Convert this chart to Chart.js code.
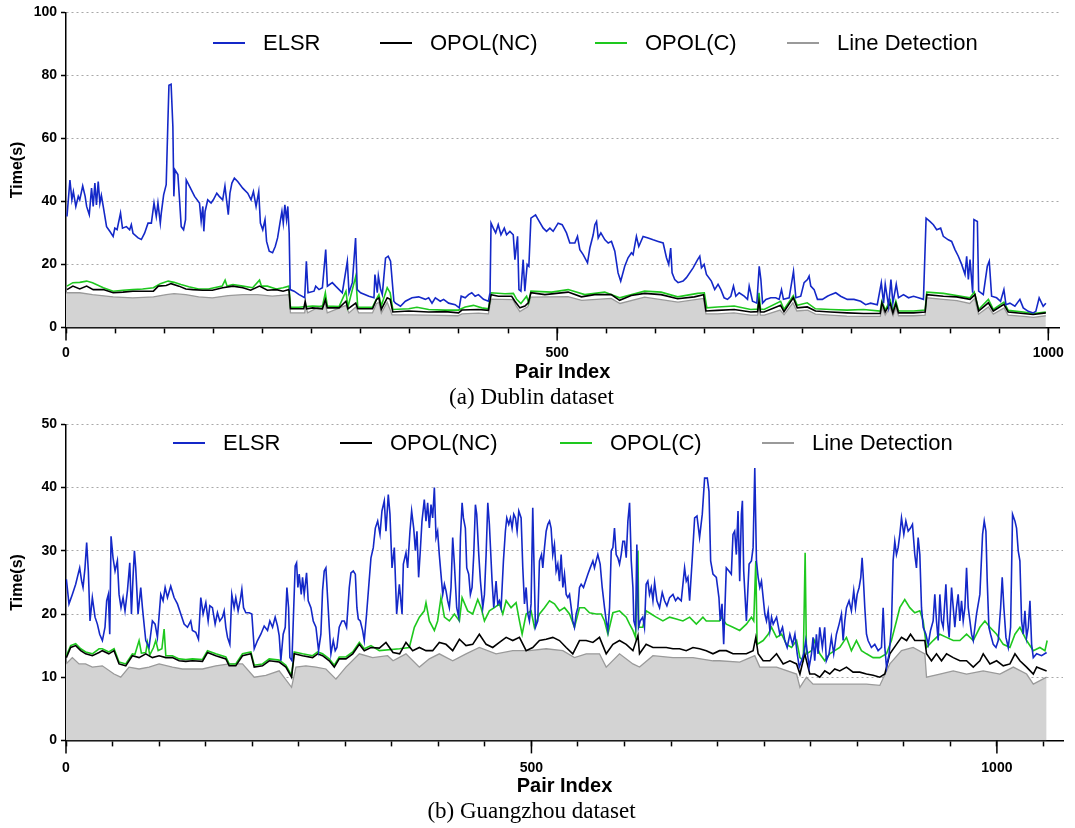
<!DOCTYPE html>
<html>
<head>
<meta charset="utf-8">
<script src="https://cdn.jsdelivr.net/npm/chart.js@4"></script>
<style>
body { margin: 0; background: #fff; }
.box { position: absolute; left: 0; width: 1075px; }
#top { top: 0; height: 412px; }
#bottom { top: 412px; height: 416px; }
</style>
</head>
<body>
<div class="box" id="top"><canvas id="dublinChart"></canvas></div>
<div class="box" id="bottom"><canvas id="guangzhouChart"></canvas></div>
<script>
const seriesNames = ['ELSR', 'OPOL(NC)', 'OPOL(C)', 'Line Detection'];

// Dublin dataset, [pair index, time in s]
const dublinElsr = [[1,35.2],[4,46.8],[6,40.5],[7.5,43.1],[10,38.4],[12.5,41.6],[14,40.5],[17,44.9],[19.5,41.6],[21,38.4],[23.7,35.8],[26,44.2],[27.7,38.4],[29.4,45.8],[31,38.9],[32.8,46.3],[34.5,39.4],[36,41.9],[37.9,38.4],[41.3,32],[44.6,30.5],[48,28.9],[49.7,31.5],[52,31],[55.5,36.3],[57.5,31.5],[61.5,32],[64.8,31],[66.5,32.6],[68.2,29.9],[73.4,28.4],[76.7,27.9],[80,29.9],[83.5,33.1],[86.9,33.1],[89.6,39.5],[91.9,35.2],[93.6,39.5],[96,33.1],[97,36.3],[99.4,42.1],[102,45.3],[103.6,63.7],[104.8,76.9],[107,77.2],[108.8,63.7],[109.8,41.6],[110.9,50],[113.9,48.5],[115.6,40.5],[117.3,32],[119.7,31],[121.7,34.2],[122.4,46.8],[125.8,44.8],[130.9,41.6],[135.9,39.5],[137.6,33.7],[139.3,38.4],[140.3,30.5],[141.6,36.8],[144.3,40.5],[147.7,39.5],[150,40.5],[153.5,42.6],[156,41.6],[159.5,40.5],[161.8,44.9],[163.8,39.5],[165.2,35.8],[166.9,42.6],[168.9,45.8],[171.4,47.4],[174.8,46.3],[179.9,44.2],[185,42.6],[188.4,40.5],[190.8,43.1],[193.5,38.4],[196.2,43.1],[197.9,33.1],[200.3,31],[202.6,34.2],[204.2,27.3],[206.9,24.2],[210.3,23.7],[213,25.7],[215.4,28.4],[217.8,33.1],[219.8,36.8],[221.2,33.1],[222.8,38.9],[224.5,34.2],[225.8,38.4],[227.2,29.9],[228.2,12],[232.2,11.5],[237.3,10.4],[243,9.4],[244.7,21],[246.4,11],[252.5,11.5],[254.2,13.1],[257.6,12],[261,12.6],[264.4,24.7],[266.1,13.1],[271.1,14.2],[274.5,13.1],[281.3,11],[286.4,21],[288.1,11],[291.5,14.2],[294.8,28.4],[296.5,12],[299.9,11],[308.4,9.9],[313.5,9.4],[314.5,16.8],[316.9,11],[318,16.3],[320.3,12],[322,10.4],[325.3,22],[328,22.6],[330.4,21],[333.8,8.3],[335.4,7.7],[340.5,6.7],[345.5,8.3],[352.3,9.4],[359,9.7],[365.8,8.9],[369.2,9.4],[372.6,7.7],[376,9.4],[381,8.3],[384.4,8.9],[389.5,7.7],[396.2,7.2],[400.3,6.2],[402.3,9.9],[406.4,9.4],[409.8,10.4],[413.1,11],[416.5,9.9],[419.9,10.4],[425,8.9],[430,8.3],[431.7,11],[432.7,33.1],[435,31.5],[437.4,30],[440,32.6],[442.8,29.4],[446.2,31.5],[448.5,29.4],[451.9,30.5],[455.3,29.4],[457,21.5],[459.7,28.9],[461.1,12],[463.1,11.5],[465.4,21.5],[467.1,11.5],[469.5,20],[471.2,19.4],[473.3,34.7],[478,35.7],[480.7,34.2],[485.8,31.5],[489.2,30.5],[492.6,31.5],[495.9,30.5],[501,33.1],[505.1,32.6],[509.5,30],[512.9,26.8],[518,26.8],[520.7,28.9],[523.1,24.7],[526.5,23.1],[530.9,20.5],[533.3,25.2],[536.7,29.4],[538.4,32.6],[540.1,33.6],[541.8,28.4],[544.5,30],[548.6,27.8],[552,26.8],[555.3,27.3],[558.7,24.2],[562,17.3],[564.7,14.7],[568.8,19.4],[572.2,22.1],[575.6,23.7],[577.3,23.1],[580.7,28.9],[583.1,25.7],[587.5,28.9],[592.6,28.4],[597.7,27.8],[602.8,27.3],[607.9,26.8],[611.3,22.1],[613.6,20],[615.6,25.2],[617,17.3],[619.7,15.2],[623.1,14.2],[628.2,14.7],[631.6,15.8],[638.4,18.9],[643,21.5],[645.2,22.6],[646.9,18.9],[649.6,20],[652,16.8],[657,14.7],[660.4,12],[663.8,13.7],[666.7,12],[670,9.4],[673.4,8.9],[676.8,9.9],[679.5,13.1],[681.9,9.9],[685.3,11],[690.4,9.9],[693.8,8.9],[695.5,13.1],[698.9,8.3],[703.3,7.7],[705.7,19.4],[707.4,15.2],[709.1,7.7],[712.5,8.9],[717.5,9.4],[722.6,9.4],[726,8.9],[728.4,12],[730.4,8.9],[736.2,9.4],[740.6,17.8],[743,9.4],[748,9.9],[751.4,14.2],[754.8,15.2],[756.5,16.3],[758.2,13.1],[761.6,12],[765,8.9],[770,8.9],[775.1,9.9],[778.5,10.4],[783.6,11],[788.6,9.9],[795.4,8.9],[802.2,8.9],[809,8.3],[814,7.2],[819.1,7.7],[825.9,7.2],[830,14.2],[832.3,7.7],[834,13.7],[837.4,6.7],[839.8,15.2],[841.8,7.7],[845.2,13.7],[847.5,9.4],[852.6,10.4],[857.7,9.4],[862.8,9.9],[867.8,9.4],[872.9,8.9],[875.6,34.7],[879.7,33.6],[883,32.6],[886.4,31],[890.4,31.5],[893.1,28.9],[898.2,27.8],[901.6,27.3],[905,24.7],[908.4,22.6],[911.8,20],[915.2,16.8],[916.9,22.6],[918.6,15.2],[920.3,21.5],[923,11],[924.3,34.2],[927.8,33.6],[929.1,11.5],[933.8,10.4],[937.9,19.4],[939.9,21],[942.3,9.9],[947.4,9.4],[951.4,8.3],[954.8,12],[956.9,7.2],[960.9,7.7],[966,6.7],[971.1,8.9],[974.5,6.2],[979.6,5.1],[984.6,4.6],[987.3,5.1],[990.7,9.4],[994.8,6.7],[997.5,7.7]];
const dublinNc = [[1,12],[7,13.1],[14,12.2],[21,13.1],[27.7,12],[38,12],[48,11],[58,11.2],[68,11.5],[78,11.5],[89,11.5],[94,13.1],[102,13.3],[107,13.9],[115,13.1],[122,12.2],[129,12],[139,11.8],[149,11.8],[159.5,12.6],[170,13.1],[180,12.6],[188,11.8],[197,13.1],[205,11.8],[214,12],[221,11.5],[227,12],[228.5,5.9],[237,5.9],[242,5.9],[243.5,8.3],[245,5.9],[251,6.2],[261,5.9],[264,8.8],[266,6.2],[278,6.2],[285,8.3],[287,5.9],[295,7.7],[297,5.9],[312,5.9],[316,8.8],[318.5,9.4],[321,5.7],[327,9.4],[330,8.9],[332.7,4.9],[348.9,5.2],[369.2,4.9],[386,5],[399.6,4.6],[403,5.5],[419.9,5.7],[430,5.4],[432.7,10.4],[440.2,9.9],[453.7,9.9],[457,8.3],[462.1,6.2],[467.2,6.8],[470.6,7.8],[473.3,11],[487.5,10.4],[511.2,11.2],[524.7,9.7],[538.2,10.4],[555.1,10.4],[563.6,8.6],[575.4,10.1],[589,10.8],[605.8,10.4],[622.7,9.1],[639.7,9.7],[649.1,10.4],[651.5,5.2],[663.3,5.4],[680.2,5.7],[697.1,4.9],[704,5],[705.5,8.3],[707,4.9],[710.6,4.9],[727.5,7],[730.9,5],[740.4,9.4],[744.4,6.2],[754.6,6.5],[763,5.2],[778.2,4.9],[795.1,4.6],[812,4.4],[828.9,4.4],[830.6,7.8],[834,4.9],[839.1,7.6],[841.8,4.6],[844.8,7.6],[847.5,4.6],[862.8,4.6],[874.6,4.9],[876.3,10.4],[893.2,9.9],[906.7,9.7],[920.3,8.9],[925.4,10.4],[929.1,5.2],[939,7.8],[944,5.2],[954.8,7.3],[959.2,4.9],[974.5,4.4],[984.6,4.1],[997.5,4.6]];
const dublinC = [[1,13.1],[7,14.2],[14,14.3],[21,14.7],[27,14.2],[38,12.6],[48,11.5],[58,11.8],[68,12],[78,12.2],[89,12.6],[96,13.9],[104,14.7],[110,14.3],[117,13.6],[125,12.9],[135,12.2],[145,12.2],[159,13.1],[162,15],[164,13.1],[170,13.6],[180,13.1],[190,12.6],[197,15],[199,13.1],[205,13.1],[214,12.2],[221,12.6],[227,13.1],[228.5,6.4],[237,6.4],[251,6.8],[261,6.6],[264,11],[266,6.8],[278,6.6],[285,11.5],[287,6.4],[295,16.3],[297,6.4],[312,6.4],[316,9],[318.5,10.4],[321,6.8],[327,12.6],[330,11],[332.7,5.7],[348.9,5.9],[357.3,6.4],[369.2,5.7],[386,5.5],[399.6,5.5],[406.4,6.5],[414.8,7],[423.3,6.2],[430,5.9],[432.7,11],[446.9,10.7],[455.4,10.8],[458.8,8.9],[463.1,7.6],[468.9,9.9],[471,7.8],[473.3,11.5],[494.3,11.2],[511.2,12],[528.1,10.4],[548.4,11.2],[563.6,9.4],[589,11.5],[605.8,11.2],[622.7,9.7],[643,10.8],[649.8,11],[652.4,6.2],[663.3,6.5],[680.2,6.8],[697.1,5.7],[704,5.8],[705.5,11],[707,5.8],[710.6,5.7],[727.5,8.3],[730.9,5.7],[740.4,10.1],[744.4,7],[754.6,7.8],[763,5.9],[778.2,5.7],[795.1,5.5],[812,5.7],[828.9,5.2],[830.6,8.3],[834,5.5],[839.1,8.6],[841.8,5.2],[844.8,8.3],[847.5,5.2],[862.8,5.2],[874.6,5.5],[876.3,11.2],[893.2,10.8],[906.7,10.1],[920.3,9.4],[924.6,11.2],[929.1,5.7],[939,8.9],[944,5.7],[954.8,8],[959.2,5.4],[974.5,4.9],[984.6,4.4],[997.5,4.9]];
const dublinLd = [[0,11],[14,11],[27,10.4],[48,9.7],[68,9.4],[89,9.7],[102,10.4],[110,10.7],[122,10.4],[135,9.7],[149,9.4],[165,10.1],[180,10.4],[195,10.4],[210,9.9],[227,10.4],[228.5,4.6],[243,4.6],[244,7],[246,4.6],[264,7.5],[266,4.6],[285,7],[288,4.6],[295,6.5],[298,4.6],[312,4.6],[316,7.5],[318.5,8],[321,4.5],[327,8],[332,4],[349,4],[369,3.9],[399,3.7],[403,4.3],[420,4.5],[430,4.3],[432.7,9],[455,8.8],[458,7],[462,5],[470,6.5],[473.3,9.6],[511,9.8],[525,8.6],[555,9.2],[564,7.6],[589,9.6],[623,8],[649,9.2],[651.5,4.3],[663,4.3],[680,4.6],[697,3.9],[704,3.9],[705.5,6.5],[707,3.9],[711,3.9],[727,5.5],[731,4],[740,7.8],[744,5.2],[755,5.5],[763,4.2],[778,3.9],[795,3.6],[812,3.5],[829,3.5],[830.6,6.5],[834,3.9],[839,6.4],[842,3.7],[845,6.4],[847.5,3.7],[863,3.7],[874.6,3.9],[876.3,9.4],[893,8.9],[907,8.5],[920,7.6],[925,9.2],[929,4.2],[939,6.5],[944,4.2],[955,6.2],[959,3.9],[975,3.5],[985,3.2],[997.5,3.7]];

// Guangzhou dataset, [pair index, time in s]
const guangzhouElsr = [[0.4,25.5],[3.2,21.6],[6.8,23.1],[10.4,24.7],[12.2,25.8],[14.7,27.3],[16.8,25.2],[18.3,24.2],[20.4,27.3],[22.2,31.3],[24,26.8],[25.8,18.9],[28.3,22.6],[31.2,19.5],[33.7,18.4],[36.2,16.8],[39.1,15.8],[41.9,17.9],[43.7,22.1],[45.5,23.1],[47,16.8],[48.4,32.3],[50.5,28.9],[52.7,26.8],[55.2,28.4],[57,23.1],[59.1,21],[61.3,22.6],[63.4,20.5],[66,23.7],[68.5,28.1],[70.3,20],[72,25.8],[73.5,30],[74.9,27.3],[77.4,20],[80.3,24.2],[82.1,21],[84.2,17.9],[85.7,15.8],[89.2,14.7],[92.8,18.9],[95.7,18.4],[98.2,16.3],[101.8,23.1],[104.3,22.1],[106.5,24.2],[109,22.6],[112.5,24.4],[116.1,22.6],[119.7,21.6],[123.3,20],[126.9,18.4],[130.5,17.9],[134,18.9],[135.8,17.4],[139.4,17.1],[142.3,16],[144.8,22.6],[147.3,20],[150.2,21.8],[152.7,18.9],[154.5,21.3],[157.3,21],[160.2,18.4],[162.7,20.2],[165.2,18.9],[168.1,19.5],[169.9,20.5],[171.7,17.9],[173.5,16.3],[176,15.2],[178.1,23.1],[180.6,21],[182.4,22.6],[184.9,20.5],[187.1,22.1],[188.9,23.9],[190.7,21],[193.2,20.2],[196.8,20.2],[199.6,20],[202.2,14.5],[205.7,15.8],[209.3,16.8],[212.9,18.1],[216.5,17.4],[219,18.9],[221.9,17.9],[224.7,19.5],[227.2,18.1],[229,16.6],[230.8,12.6],[233.3,16.8],[235.5,17.9],[237.3,24.2],[239.1,21],[240.5,13.1],[242.7,12.6],[244.4,20],[246.2,27.6],[247.7,28.1],[249.1,24.2],[250.5,26.3],[252.7,23.1],[254.1,25.8],[255.9,23.1],[258.4,26.5],[260.2,22.1],[263.1,21],[265.6,18.9],[268.5,17.9],[271.3,14.2],[273.8,16.8],[275.6,23.7],[277.4,26.8],[279.2,27.3],[281,22.6],[282.8,17.9],[284.6,13.7],[287.1,15.8],[289.2,14.2],[291,14.7],[293.5,17.9],[296.4,18.9],[298.9,18.9],[301.4,17.9],[304.3,24.2],[306.1,26.5],[308.6,26.8],[310.8,26.3],[312.5,21],[314,19.2],[316.1,18.9],[318.6,17.4],[320.4,15.8],[322.9,20],[325.1,24.2],[327.6,28.9],[330.1,30.5],[332.3,33.6],[334.8,34.7],[337.3,32.6],[339.4,36.3],[341.9,37.9],[343.7,33.1],[346.2,38.9],[348,35.8],[350.2,27.3],[352.7,30.5],[355.2,20],[358.1,24.7],[361,20],[362.4,27.9],[365.2,29.7],[367,27.3],[369.5,33.1],[371.3,36.3],[373.5,33.6],[375.3,30],[377,33.1],[378.8,25.8],[380.6,30],[382.4,34.7],[384.9,38.1],[386.7,34.7],[388.5,37.6],[390.3,33.6],[392.1,37.3],[393.9,35.2],[395.7,40],[397.5,32.1],[399.2,33.1],[401,29.4],[402.8,26.3],[404.7,23.1],[406.5,24.7],[408.2,23.7],[410,22.1],[411.8,21],[413.6,24.2],[415.4,32.1],[417.2,27.9],[419.7,21],[421.9,19.5],[423.7,32.1],[425.5,37.6],[426.9,35.2],[429,33.6],[430.5,27.3],[432.6,26.3],[434.4,23.1],[436.2,24.2],[438,29.4],[439.8,37.3],[441.2,35.8],[443.4,29.4],[445.2,25.2],[447.7,21],[449.5,23.1],[451.3,29.4],[453.1,37.6],[454.8,34.2],[457.7,25.2],[459.5,21],[462,25.2],[463.8,21.6],[465.6,22.1],[467.4,21],[469.9,28.4],[472,33.1],[473.5,35.2],[475.6,34.2],[477.4,35.2],[479.2,33.6],[481,35.8],[482.8,35.2],[484.6,33.1],[486.4,36.3],[488.9,35.2],[490.7,27.3],[492.5,21.6],[494.3,24.2],[496.1,20],[497.8,18.9],[499.6,21.6],[501.4,36.8],[502.5,29.4],[504.3,17.9],[506.8,18.9],[508.6,28.4],[510.8,29.4],[512.2,27.3],[514,30.5],[515.8,33.1],[517.6,34.2],[519.4,34.7],[521.1,33.6],[522.9,29.4],[524.7,31],[526.5,26.8],[528.3,27.9],[530.1,25.2],[531.9,29.4],[533.7,24.2],[535.5,26.3],[537.3,23.1],[539.1,22.6],[540.9,23.1],[542.7,21],[544.4,18.9],[546.2,17.9],[548,20],[549.8,21],[551.6,24.2],[553.4,24.7],[555.9,24.2],[558.1,25.2],[560.6,26.3],[563.1,27.3],[566,28.4],[567.7,27.3],[569.5,28.4],[571.3,29.4],[573.8,27.9],[576,24.2],[578.5,21],[580.3,18.9],[582.1,17.4],[583.9,21],[585.7,30],[587.5,30.5],[589.2,33.6],[591,29.4],[592.8,28.9],[594.6,27.9],[596.4,29.4],[598.2,31.5],[600,31.5],[601.8,28.9],[603.6,34.7],[605.4,37.6],[607.2,28.4],[609,24.2],[610,18.9],[611.8,17.9],[613.2,31],[615,17.9],[616.8,18.9],[619.6,19.5],[621.4,17.9],[623.2,24.7],[625,25.2],[626.8,23.1],[628.7,24.2],[630.5,22.1],[632.3,25],[634.8,22.1],[637.6,21],[640.5,23.4],[643,22.1],[645.5,21.3],[648.4,22.6],[652,23.1],[654.8,22.1],[657.3,22.6],[660.9,22.1],[664.5,27.3],[666.3,25.2],[668.1,25.8],[669.9,22.1],[672.8,28.9],[675.3,35.2],[677.8,35.5],[680.6,32.1],[683.5,35.8],[686,41.5],[688.9,41.5],[690.7,39.4],[692.5,28.4],[695,26.3],[698.6,25.8],[701.4,22.6],[702.8,18.9],[704.7,21.6],[706.5,15.2],[709.3,27.3],[712.2,26.8],[714.7,26.3],[716.5,32.6],[718.3,33.1],[720.1,29.4],[721.9,36.3],[723.7,25.2],[725.5,35.8],[726.6,37.9],[728,26.8],[730.9,18.9],[733.8,27.9],[736.3,28.4],[738.1,30.5],[739.9,43.1],[741.7,28.4],[743.5,25.8],[745.3,24.2],[747.1,25.2],[748.9,22.6],[750.7,20],[752.5,18.9],[754.3,20.5],[756.1,17.4],[757.9,19.5],[759.7,18.4],[763.3,19.5],[766.8,16.8],[769.7,17.9],[772.2,15.8],[774.7,14.7],[777.6,16.8],[780.5,15.2],[783,16.8],[785.5,13.7],[787.7,11.6],[790.1,12.6],[792.5,13.7],[794.7,15.8],[796.5,13.7],[798.3,11.6],[800.8,13.7],[802.5,16.3],[804.3,12.6],[806.1,16.8],[807.9,13.7],[809.7,17.9],[812.5,14.7],[815,17.9],[816.8,12.6],[819.7,13.7],[822.2,16.3],[824.7,13.7],[827.6,16.8],[830.5,18.4],[833,20],[834.8,15.8],[836.6,18.9],[838.4,21],[841.2,22.1],[843.7,20.5],[846.2,23.7],[848.1,21],[849.9,23.1],[852,24.2],[853.8,25.8],[855.2,28.9],[856.3,26.3],[858.1,21],[859.9,16.8],[861.6,15.8],[865.2,14.7],[868.8,15.2],[872.4,14.2],[876,14.7],[877.8,21],[879.6,14.7],[881.4,11.6],[884.2,13.7],[886.7,17.9],[888.5,28.4],[890.3,31.5],[892.1,29.4],[893.9,30.5],[895.7,32.6],[897.5,35.2],[900,32.6],[902.2,34.7],[904.7,33.1],[907.2,33.6],[909.3,34.2],[911.8,29.4],[913.6,27.3],[915.4,32.1],[917.2,29.4],[919,21],[920.8,17.9],[923.7,16.8],[926.2,15.2],[928.7,17.4],[931.5,18.9],[933.3,23.1],[935.1,18.9],[936.9,15.8],[938.7,23.1],[940.5,18.9],[942.3,17.9],[945.2,24.7],[947,18.9],[948.7,16.3],[951.3,24.2],[953.1,21],[954.8,17.9],[956.6,21],[958.4,23.1],[960.2,18.9],[962,22.1],[963.8,18.9],[965.6,21],[967.4,27.3],[969.2,21],[971,18.9],[972.8,16.8],[974.6,15.8],[978.1,20],[981.7,23.1],[984.6,32.6],[986.4,34.7],[988.2,33.1],[989.6,25.2],[991.4,17.9],[993.2,16.8],[996.1,15.2],[999,14.7],[1001.4,15.8],[1004,21],[1005.7,25.8],[1007.5,21],[1009.7,16.3],[1012.2,14.7],[1014.7,17.9],[1016.8,35.8],[1019.4,34.7],[1021.1,33.6],[1022.9,30],[1024.7,28.4],[1026.5,18.9],[1028.3,16.8],[1030.1,20.5],[1031.9,16.3],[1033.7,17.9],[1035.5,22.1],[1037.3,15.2],[1039.1,13.1],[1042.7,13.7],[1048,13.4],[1053.4,13.9]];
const guangzhouNc = [[0.4,13.1],[5,14.7],[10.4,15],[15.8,14.2],[21.1,13.7],[28.3,13.4],[35.5,13.9],[39,14.2],[46,13.7],[51.6,14.2],[57,12.1],[64.2,11.8],[71.3,13.4],[78.5,13.1],[85.7,13.7],[92.8,13.1],[100,13.4],[107.2,13.1],[114.3,13.1],[121.5,12.6],[128.7,12.5],[135.8,12.6],[146.6,12.5],[152,13.9],[160.9,13.4],[171.7,12.9],[175.3,11.8],[182.4,11.8],[189.6,13.4],[198.6,13.7],[202.2,11.6],[211.1,11.8],[218.3,12.6],[229,12.4],[236.2,11.6],[242.3,10],[245.2,13.7],[254.1,13.4],[264.9,13.1],[270.3,13.7],[275.6,13.4],[282.8,12.6],[288.2,11.6],[293.5,12.9],[300.7,12.9],[308,13.7],[315.1,15.2],[320.4,14.2],[327.6,14.7],[336.6,14.6],[343.7,15.5],[351.3,13.9],[358.4,13.7],[365.2,15.5],[372.4,14.2],[379.6,14.7],[386.7,14.2],[393.9,14.2],[401,15.5],[408.2,15.2],[415.4,14.2],[422.6,16],[429.7,15],[436.9,15.2],[444,16.8],[451.3,15.2],[458.4,14.7],[465.6,15.5],[472.8,16.3],[479.9,15.8],[487.1,16.3],[494.3,14.2],[501.4,14.7],[508.6,15.8],[515.8,16],[523,16.3],[530.1,15.8],[537.3,14.7],[544.4,13.7],[551.6,15.8],[558.8,15.8],[566,15.5],[573.1,16.3],[580.3,13.7],[587.5,15.2],[594.6,15.8],[601.8,15.2],[609,14.2],[614.4,16.6],[616.1,13.7],[623.2,15.2],[630.5,14.7],[637.6,14.7],[644.8,14.7],[652,14.5],[659.1,14.5],[666.3,14.2],[673.5,14.7],[680.6,14.5],[687.8,14.2],[695,13.7],[702,14.2],[709.3,14.2],[716.5,13.7],[723.7,13.7],[730.9,13.7],[738.1,14.2],[741,16.3],[743.5,13.7],[748.9,12.6],[756.1,12.6],[763.3,13.7],[770.4,12.1],[777.6,12.6],[784.8,12.1],[788.4,10.5],[793.6,13.7],[799,10.5],[804.3,10.5],[809.7,10],[815.1,11],[820.4,10.5],[825.8,11.3],[831.2,11],[838.4,11.6],[845.5,10.8],[852.7,10.8],[859.9,10.5],[867,10.3],[874.2,10],[879.6,10.5],[885,13.7],[892.1,15.2],[897.5,16.3],[903,15.8],[907.2,16.8],[911.8,15.8],[917.2,15.8],[922.6,15.8],[924.4,13.7],[929.7,12.6],[935.1,13.7],[940.5,12.6],[945.9,13.7],[953.1,13.1],[960.2,12.6],[967.4,12.6],[974.6,11.6],[981.7,12.6],[985.3,13.7],[992.5,12.1],[999.7,12.6],[1006.8,11.8],[1014,12.1],[1019.4,13.7],[1024.7,12.6],[1031.9,11.6],[1039.1,10.5],[1042.7,11.6],[1048,11.3],[1053.4,11]];
const guangzhouC = [[0.4,13.4],[5,15],[10.4,15.3],[15.8,14.5],[21.1,14],[28.3,13.7],[35.5,14.5],[39,14.5],[46,14],[51.6,14.5],[57,12.4],[64.2,12.1],[71.3,13.7],[74,13.6],[78.5,15.8],[81,13.8],[85.7,13.9],[87.5,15.5],[90,13.5],[94,14.7],[96.4,15.8],[99,14.2],[103,14.5],[105.4,17.6],[107.2,13.4],[114.3,13.4],[121.5,12.9],[128.7,12.8],[135.8,12.9],[146.6,12.8],[152,14.2],[160.9,13.7],[171.7,13.2],[175.3,12.1],[182.4,12.1],[189.6,13.7],[198.6,14],[202.2,11.9],[211.1,12.1],[218.3,12.9],[229,12.7],[236.2,11.9],[242.3,10.3],[245.2,14],[254.1,13.7],[264.9,13.4],[270.3,14],[275.6,13.7],[282.8,12.9],[288.2,11.9],[293.5,13.2],[300.7,13.2],[308,14],[315.1,15.5],[320.4,14.5],[327.6,15],[336.6,14.2],[358.4,14.5],[368.8,14.7],[374.2,17.9],[379.6,19.5],[384.9,20.5],[386.7,21.8],[390.3,18.9],[395.7,17.4],[399.2,18.9],[402.8,22.6],[406.5,19.5],[411.8,18.9],[417.2,20],[422.6,18.9],[425.5,22.6],[431.5,20.5],[436.9,20],[442.3,22.3],[445.9,21],[449.5,18.9],[454.8,20.5],[460.2,21],[465.6,21.6],[469.2,20],[472.8,22.1],[478.1,21],[483.5,21.8],[487.1,18.9],[490,16.8],[494.3,20],[499.6,20.5],[503.2,17.9],[508.6,20],[514,21],[519.4,22.1],[524.7,21.6],[530.1,20.5],[535.5,21],[540.9,20],[546.2,17.9],[551.6,21],[557,21],[562.4,20.2],[569.5,20],[574.9,20],[578.5,18.9],[582.1,16.8],[587.5,20.2],[594.6,20.5],[601.8,19.5],[605.4,18.4],[609,17.4],[611.8,16.3],[613.6,25],[614.4,30],[615.3,17.9],[619.6,17.9],[623.2,20.5],[628.6,20],[634,19.5],[641.2,18.9],[648.4,19.5],[655.6,19.2],[662.7,18.9],[669.9,19.5],[677.1,18.4],[684.2,19.5],[687.8,18.9],[695,18.9],[702,18.9],[704,19.5],[709.3,18.4],[716.5,17.9],[723.7,17.4],[730.9,18.4],[736.3,19.5],[738.8,18.9],[741,28.4],[742.4,15.2],[748.9,15.8],[754.3,16.8],[757.9,17.9],[763.3,16.3],[768.7,16.8],[774,15.2],[779.4,14.7],[784.8,15.8],[788.4,13.1],[792,12.6],[794,29.7],[795.4,13.7],[800.8,14.2],[804.3,15.8],[809.7,13.7],[815.1,12.6],[820.4,13.7],[825.8,14.2],[831.2,14.7],[838.4,16.3],[843.7,14.2],[849.1,15.8],[854.5,14.2],[859.9,13.7],[867,13.1],[874.2,13.1],[881.4,13.7],[886.7,15.8],[892.1,18.9],[895.7,21],[901,22.3],[906.4,21],[911.8,20.2],[917.2,20.5],[920.8,18.9],[924.4,14.7],[931.5,15.8],[938.7,16.8],[945.9,16.3],[953.1,15.8],[960.2,15.8],[967.4,16.8],[974.6,15.8],[981.7,17.9],[987.1,18.9],[992.5,17.9],[999.7,16.8],[1006.8,15.2],[1014,14.7],[1019.4,16.8],[1024.7,17.9],[1031.9,15.8],[1039.1,14.2],[1046.2,14.7],[1051.6,14.2],[1054,15.8]];
const guangzhouLd = [[0,12.1],[6.8,13.1],[14,12.1],[21,12.1],[28.3,11.6],[39,11.8],[51.6,10.5],[58.8,10],[67.7,11.6],[78.5,11.3],[89.2,11.6],[100,12.1],[114.3,11.6],[125,11.3],[135.8,11.3],[146.6,11.3],[160.9,11.8],[175.3,12.1],[189.6,12.1],[202.2,10],[214.7,10.3],[229,11],[242.3,8.4],[247,11.6],[257.7,11.8],[268.5,11.6],[279.2,11.3],[290,9.7],[300.7,11.6],[315.1,13.7],[329.4,13.1],[345.5,13.4],[351.3,12.6],[365.2,13.7],[379.6,11.6],[390.3,12.9],[401,13.7],[415.4,12.6],[429.7,13.7],[444,14.7],[462,13.7],[479.9,14.2],[497.8,14.2],[515.8,14.5],[533.7,14.2],[546.2,13.1],[558.8,13.7],[573.1,13.7],[580.3,11.6],[594.6,13.7],[609,12.1],[616.1,11.6],[630.5,13.4],[652,13.1],[673.5,13.1],[695,12.6],[702,12.6],[723.7,12.4],[739.9,13.4],[745.3,11.6],[763.3,11.6],[784.8,10.5],[788.4,8.4],[795.4,10],[802.5,8.9],[824,8.9],[842,8.9],[859.9,8.9],[874.2,8.7],[885,12.1],[897.5,14.2],[910,14.7],[922.6,13.7],[924.4,10],[938.7,10.5],[953.1,11],[967.4,10.5],[985.3,11],[1003.2,10.5],[1017.6,11.6],[1031.9,10.5],[1039.1,8.9],[1053.4,10]];

const sansFont = "'Liberation Sans', Arial, sans-serif";
const colors = ['#1428c8', '#000000', '#1ec81e', '#9a9a9a'];
const majorSteps = [0, 500, 1000];

function toPoints(pairs) {
    return pairs.map(p => ({ x: p[0], y: p[1] }));
}

// legend sits inside the plot area, drawn by hand
const innerLegend = {
    id: 'innerLegend',
    afterDatasetsDraw(chart, args, opts) {
        const ctx = chart.ctx;
        ctx.save();
        ctx.font = '22px ' + sansFont;
        ctx.textBaseline = 'middle';
        chart.data.datasets.forEach((ds, i) => {
            const x = opts.xs[i];
            ctx.strokeStyle = ds.borderColor;
            ctx.lineWidth = 2;
            ctx.beginPath();
            ctx.moveTo(x, opts.y);
            ctx.lineTo(x + 32, opts.y);
            ctx.stroke();
            ctx.fillStyle = '#000';
            ctx.fillText(ds.label, x + 50, opts.y + 1);
        });
        ctx.restore();
    }
};

// longer tick marks at the labelled values
const majorTicks = {
    id: 'majorTicks',
    afterDraw(chart) {
        const xs = chart.scales.x;
        const ctx = chart.ctx;
        const y0 = chart.chartArea.bottom;
        ctx.save();
        ctx.strokeStyle = '#000';
        ctx.lineWidth = 1.5;
        majorSteps.forEach(v => {
            const px = xs.getPixelForValue(v);
            ctx.beginPath();
            ctx.moveTo(px, y0);
            ctx.lineTo(px, y0 + 13);
            ctx.stroke();
        });
        ctx.restore();
    }
};

function createChart(id, cfg) {
    const data = [cfg.elsr, cfg.nc, cfg.c, cfg.ld];
    const ctx = document.getElementById(id).getContext('2d');
    return new Chart(ctx, {
        type: 'line',
        data: {
            datasets: data.map((d, i) => ({
                label: seriesNames[i],
                data: toPoints(d),
                borderColor: colors[i],
                borderWidth: i === 3 ? 1.3 : 1.6,
                pointRadius: 0,
                tension: 0,
                fill: i === 3 ? 'origin' : false,
                backgroundColor: i === 3 ? '#d3d3d3' : colors[i]
            }))
        },
        plugins: [innerLegend, majorTicks],
        options: {
            responsive: true,
            maintainAspectRatio: false,
            animation: false,
            events: [],
            devicePixelRatio: 1,
            layout: { padding: { left: 0, right: 12, top: cfg.padTop, bottom: 0 } },
            plugins: {
                legend: { display: false },
                tooltip: { enabled: false },
                innerLegend: { xs: cfg.legendXs, y: cfg.legendY },
                title: {
                    display: true,
                    position: 'bottom',
                    text: cfg.caption,
                    color: '#000',
                    font: { family: "'Liberation Serif', 'Times New Roman', serif", size: 23, weight: 'normal', lineHeight: 1.2 },
                    padding: { top: 0, bottom: cfg.captionPad }
                }
            },
            scales: {
                x: {
                    type: 'linear',
                    min: 0,
                    max: cfg.xMax,
                    afterBuildTicks: s => { s.ticks = s.ticks.filter(t => t.value % 50 === 0); },
                    afterFit: s => { s.height = cfg.xHeight; },
                    ticks: {
                        stepSize: 50,
                        includeBounds: false,
                        autoSkip: false,
                        maxRotation: 0,
                        padding: cfg.labelPad,
                        color: '#000',
                        font: { family: sansFont, size: 14, weight: 'bold' },
                        callback: v => (v % 500 === 0 ? v : '')
                    },
                    grid: { drawOnChartArea: false, drawTicks: true, tickLength: 6, tickColor: '#000', tickWidth: 1.5 },
                    border: { color: '#000', width: 1.5 },
                    title: {
                        display: true,
                        text: 'Pair Index',
                        color: '#000',
                        font: { family: sansFont, size: 20, weight: 'bold', lineHeight: 1.2 },
                        padding: { top: 0, bottom: 0 }
                    }
                },
                y: {
                    min: 0,
                    max: cfg.yMax,
                    afterFit: s => { s.width = 66; },
                    ticks: {
                        stepSize: cfg.yStep,
                        padding: 4,
                        color: '#000',
                        font: { family: sansFont, size: 14, weight: 'bold' }
                    },
                    grid: {
                        color: c => (c.tick && c.tick.value === 0 ? 'rgba(0,0,0,0)' : '#a8a8a8'),
                        lineWidth: 1,
                        tickLength: 5,
                        tickColor: '#000',
                        tickWidth: 1.5
                    },
                    border: { color: '#000', width: 1.5, dash: [2, 3] },
                    title: {
                        display: true,
                        text: 'Time(s)',
                        color: '#000',
                        font: { family: sansFont, size: 16, weight: 'bold', lineHeight: 1.2 },
                        padding: { top: 8, bottom: 0 }
                    }
                }
            }
        }
    });
}

createChart('dublinChart', {
    elsr: dublinElsr, nc: dublinNc, c: dublinC, ld: dublinLd,
    xMax: 1011, yMax: 100, yStep: 20,
    padTop: 12, xHeight: 57, labelPad: 11, captionPad: 0,
    caption: '(a) Dublin dataset',
    legendXs: [213, 380, 595, 787], legendY: 43
});

createChart('guangzhouChart', {
    elsr: guangzhouElsr, nc: guangzhouNc, c: guangzhouC, ld: guangzhouLd,
    xMax: 1071, yMax: 50, yStep: 10,
    padTop: 11, xHeight: 58, labelPad: 13, captionPad: 2,
    caption: '(b) Guangzhou dataset',
    legendXs: [173, 340, 560, 762], legendY: 31
});
</script>
</body>
</html>
